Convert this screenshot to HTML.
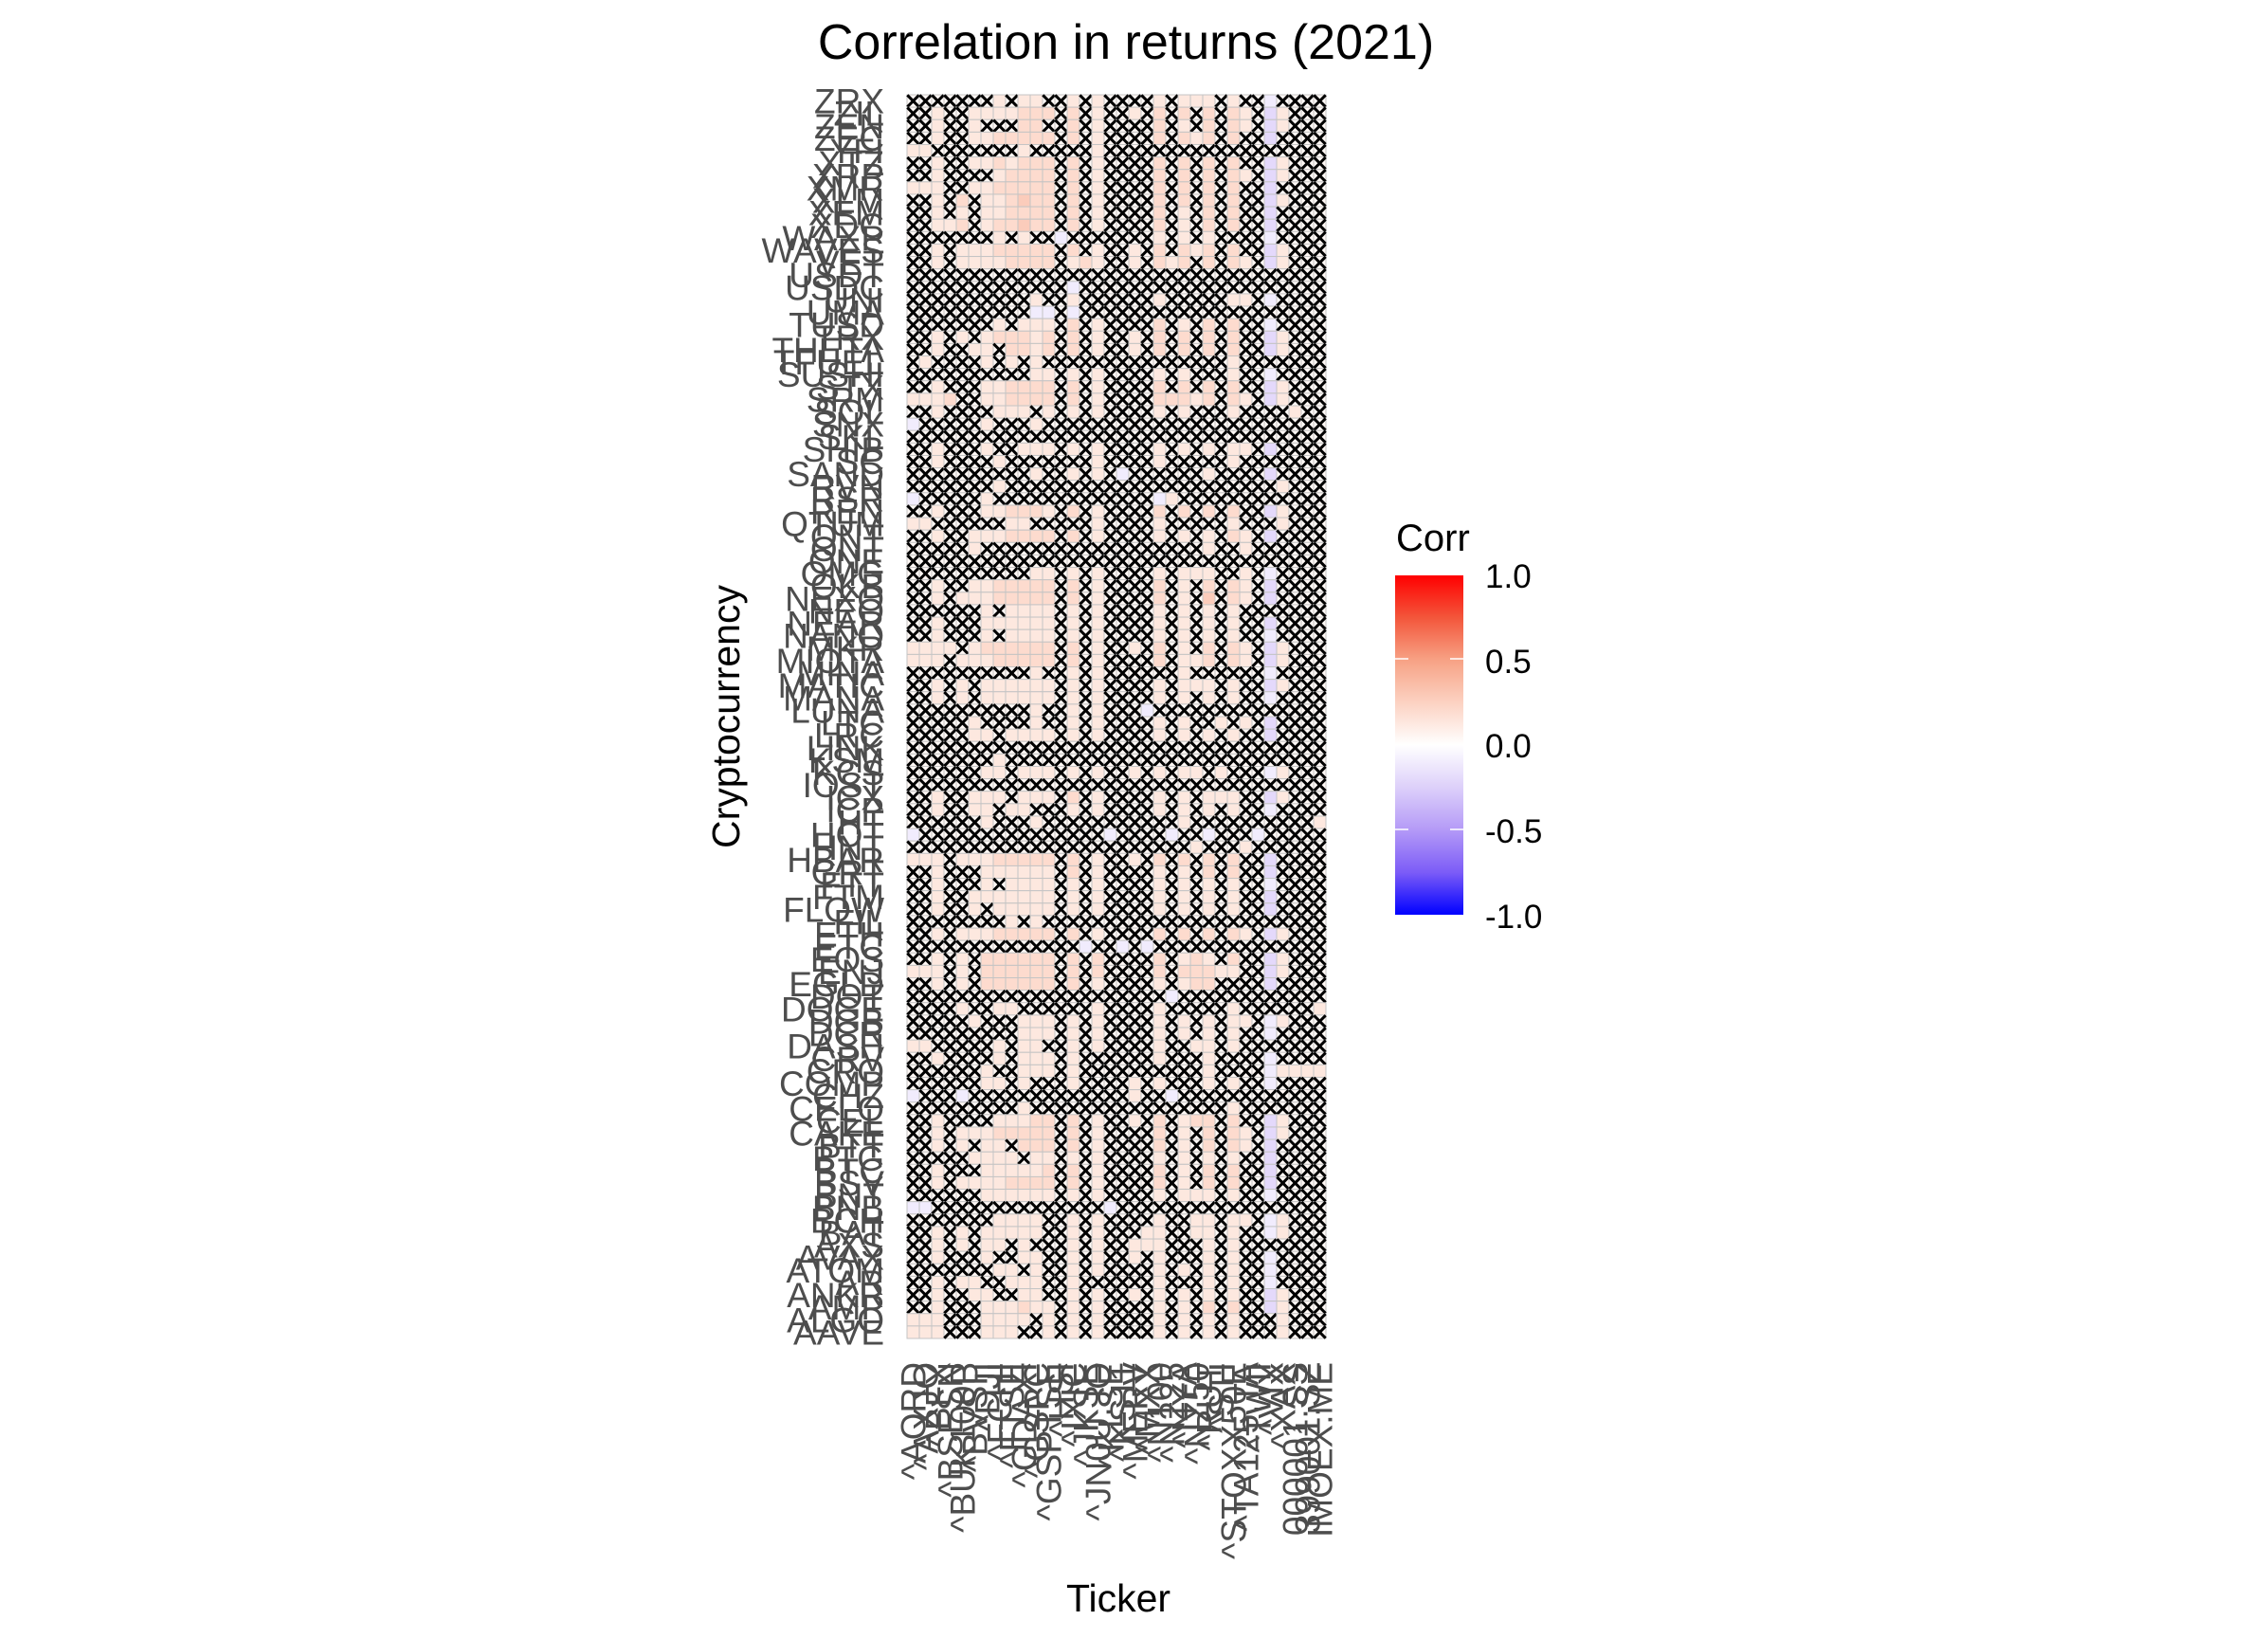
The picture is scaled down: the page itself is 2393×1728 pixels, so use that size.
<!DOCTYPE html>
<html><head><meta charset="utf-8"><title>Correlation in returns (2021)</title>
<style>html,body{margin:0;padding:0;background:#fff;}svg{display:block;}</style></head>
<body>
<svg id="chart" xmlns="http://www.w3.org/2000/svg" width="2393" height="1728" viewBox="0 0 2393 1728" font-family="Liberation Sans, Arial, sans-serif">
  <rect x="0" y="0" width="2393" height="1728" fill="#ffffff"/>
  <text x="1188" y="62" text-anchor="middle" font-size="52" fill="#000">Correlation in returns (2021)</text>
  <g id="cells"></g>
  <g id="ylabels"></g>
  <g id="xlabels"></g>
  <text transform="translate(780,756) rotate(-90)" text-anchor="middle" font-size="41" fill="#000">Cryptocurrency</text>
  <text x="1180" y="1700" text-anchor="middle" font-size="41" fill="#000">Ticker</text>
  <g>
    <defs>
      <linearGradient id="cbar" x1="0" y1="0" x2="0" y2="1">
        <stop offset="0" stop-color="#ff0000"/>
        <stop offset="0.125" stop-color="#f3563b"/>
        <stop offset="0.25" stop-color="#f7a285"/>
        <stop offset="0.375" stop-color="#fcd2c2"/>
        <stop offset="0.5" stop-color="#ffffff"/>
        <stop offset="0.625" stop-color="#ddd0fa"/>
        <stop offset="0.75" stop-color="#b49af7"/>
        <stop offset="0.875" stop-color="#7c5cf7"/>
        <stop offset="1" stop-color="#0000ff"/>
      </linearGradient>
    </defs>
    <text x="1473" y="581" font-size="40" fill="#000">Corr</text>
    <rect x="1472" y="607" width="72" height="358" fill="url(#cbar)"/>
    <g stroke="#fff" stroke-width="1.5">
      <line x1="1472" y1="695" x2="1486" y2="695"/><line x1="1530" y1="695" x2="1544" y2="695"/>
      <line x1="1472" y1="786" x2="1486" y2="786"/><line x1="1530" y1="786" x2="1544" y2="786"/>
      <line x1="1472" y1="875" x2="1486" y2="875"/><line x1="1530" y1="875" x2="1544" y2="875"/>
    </g>
    <g font-size="35" fill="#000">
      <text x="1567" y="620">1.0</text>
      <text x="1567" y="710">0.5</text>
      <text x="1567" y="799">0.0</text>
      <text x="1567" y="889">-0.5</text>
      <text x="1567" y="979">-1.0</text>
    </g>
  </g>
</svg>
<script>
// Data: tickers (x categories), cryptos (y categories, bottom to top), matrix rows top to bottom.
const tickers = ["^AORD","^AXJO","^BFX","^BSESN","^BUK100P","^BVSP","^DJI","^FCHI","^FTSE","^GDAXI","^GSPC","^GSPTSE","^HSI","^IXIC","^JKSE","^JN0U.JO","^KLSE","^KS11","^MERV","^MXX","^N100","^N225","^NYA","^NZ50","^RUT","^STI","^STOXX50E","^TA125.TA","^TWII","^VIX","^XAX","000001.SS","399001.SZ","IMOEX.ME"];
const cryptos = ["AAVE","ALGO","AMP","ANKR","AR","ATOM","AVAX","AXS","BAT","BCH","BNB","BNT","BSV","BTC","BTG","BTT","CAKE","CEL","CELO","CHZ","COMP","CRO","CRV","DASH","DCR","DGB","DOGE","DOT","EGLD","ENJ","EOS","ETC","ETH","FIL","FLOW","FTM","FTT","GRT","HBAR","HNT","HOT","HT","ICP","ICX","IOST","KCS","KSM","LINK","LRC","LTC","LUNA","MANA","MATIC","MINA","MIOTA","MKR","NANO","NEAR","NEO","NEXO","OKB","OMG","ONE","ONT","QNT","QTUM","REN","RSR","RVN","SAND","SC","SHIB","SKL","SNX","SOL","SRM","STX","SUSHI","TFUEL","THETA","TRX","TUSD","UMA","UNI","USDC","USDT","VET","WAVES","WAXP","XDC","XEM","XLM","XMR","XRP","XTZ","YFI","ZEC","ZEN","ZIL","ZRX"];
// correlation level codes per cell; x = not significant
const levelValues = {"x":0.04,"1":0.13,"2":0.2,"3":0.28,"n":-0.1,"m":-0.2};
const matrixRows = [
"xxxxxxx1x11xx1x1xxxx1x111x1xxnxxxx","xx1xx1111222x2x1xx1x2x2x2x21xm1xxx","xx1xx1xxx22xx2x1xxxx2x1x2x21xm1xxx","xx1xx1122222x2x1xxxx2x212x2xxmxxxx",
"11xxxxxxx1xxxxx1xxxxxxxxxxxxxxxxxx","xx1xx1121222x2x1xxxx2x2x2x2xxm1xxx","xx1xxxx12222x2x1xxxx2x2x2x21xm1xxx","111xx1122222x2x1xxxx2x2x2x2xxmxxxx",
"xx1x2x112322x2x1xxxx2x2x2x2xxm1xxx","xx1x1x112222x2x1xxxx2x1x2x2xxmxxxx","xx112x122322x2x1xxxx2x1x2x2xxmxxxx","xxxxxxx1x1xxnxxxxxxx1x1x1xxxxnxxxx",
"xx1x11122222x2x1xx1x2x212x2xxm1xxx","xx1x11112222x121xx1x212x2x21xm1xxx","xxxxxxxxxxxxxxxxxxxxxxxxxxxxxxxxxx","xxxxxxxxxxxxxnxxxxxxxxxxxxxxxxxxxx",
"xxxxxxxxxx1xx1xxxxxx1xxxxx11xnxxxx","xxxxxxxxxxnnxnxxxxxxxxxxxxxxxxxxxx","xxxxxxx1x111x2x1xxxx2x1x2x2xxnxxxx","xx1x1x122212x2x1xx1x2x2x2x2xxm1xxx",
"xx1xx11x2212x2x1xx1x2x2x2x2xxm1xxx","x1xxxx1x1x1xxxxxxxxxxxxxxx1xxxxxxx","xxxxxxxxxx11x1x1xxxx1x1xxx1xxnxxxx","xx1xxx112222x2x1xxxx2x2x2x2xxm1xxx",
"1112xx112222x2x1xxxx22212x21xm1xxx","xx1xxxx111x1x1x1xxxx1x1xxx1xxxx1xx","nxxxxx1xxx1xxxxxxxxxxxxxxxxxxxxxxx","xxxxxxxxxxxxxxxxxxxxxxxxxxxxxxxxxx",
"xx1xxx1xx111x1x1xxxx1x1x1x11xmxxxx","xx1xxxx1xxxxxxx1xxxx1xxxxx1xxxxxxx","xxxxxxxxxx1xx1x1xnxxxxxx1xxxxmxxxx","xxxxxxx1xxxxxxxxxxxxxxxxxxxxxx1xxx",
"nxxxxx1xxxxxxxxxxxxxn1xxxxxxxxxxxx","xx1xxx112221x2x1xxxx2x2x2x2xxm1xxx","11xxxxxx11xxxxx1xxxx1xxxxx1xxx1xxx","xx1xx1112222x2x1xxxx1x1x1x21xmxxxx",
"xxxxx1xxxxxxxxxxxxxxxxxx1xx1xxxxxx","xxxxxxxxxxxxxxxxxxxxxxxxxxxxxxxxxx","xxxxxxxxxx11x1x1xxxx1x111xx1xnxxxx","xx1xx1122222x2x1xxxx2x1x2x21xmxxxx",
"xx1x11122222x2x1xxxx2x1x3x21xmxxxx","xxxxxx1x1111x1x1xxxx1x1x1x1xxxxxxx","xx1xxx111111x1x1xxxx1x1x1x1xxmxxxx","xx1xxx1x1111x1x1xxxx1x1x1x1xxnxxxx",
"1111x1222222x2x1xx1x2x1x2x21xm1xxx","111x11122222x2x1xxxx2x112x21xm1xxx","xxxxxxxxxx1xx1x1xxxxxx1xxxxxxnxxxx","xx1x1x111111x1x1xxxx1x111x1xxm1xxx",
"xx1x1x111111x1x1xxxx1x1x1x1xxnxxxx","xxxxxxxxxx1xx1x1xxxnxxxxxxxxxxxxxx","xxxxx1xxxx1xx1x1xxxx1x1xx1x1xmxxxx","xxxxx11x1111x1x1xxxx1x1x1x1xxmxxxx",
"xxxxxxxxxxxxxxxxxxxxxxxxxxxxxxxxxx","xxxxxxx1xxxxxxxxxxxxxxxxxxxxxxxxxx","xxxxxx11x111x1x1xx1x1x11x1xxxn1xxx","xxxxxxxxxxxxxxxxxxxxxxxxxxxxxxxxxx",
"xx1xx111x111x2x1xxxx1x1x111xxm1xxx","xx1xx11x11xxx1x1xxxx1x1x1x1xxnxxxx","xxxxxx1xxx1xxxxxxxxxxx1xxxxxxxxxx1","nxxxxxxxxxxxxxxxnxxxxnxxnxxxnxxxxx",
"xxxxxxxxxxxxxxxxxxxxxxx1xxx1xxxxxx","111x11122222x2x1xx1x2x2x2x2xxmxxxx","xx1xxx111111x2x1xxxx1x1x2x2xxmxxxx","xx1xxx1x1111x1x1xxxx1x1x1x1xxnxxxx",
"xx1xx1111111x1x1xxxx1x1x1x1xxmxxxx","xx1xx1x11111x1x1xxxx1x1x1x1xxmxxxx","xxxxxxxx1x1xxxxxxxxxxxxxxxxxxxxxxx","xx1x11122222x2x1xxxx2x2x2x21xm1xxx",
"xxxxxxxxxxxxxxnxxnxnxxxxxxxxxxxxxx","xx1x1x222222x2x2xxxx2x121x2xxm1xxx","111x1x222222x2x2xxxx2x22211xxm1xxx","xx1x1x222222x2x1xxxx1x122xxxxmxxxx",
"xxxxxxxxxxxxxxxxxxxxxnxxxxxxxxxxxx","xxxx1xx11xxxxxx1xxxx1xxxxx1xxxxxx1","xxxxx1xxx111x1x1xxxx1x1x1x11xn1xxx","xxxxxxxxx111x1x1xxxx1x1x1x1xxnxxxx",
"11xxxxx1x11xx1x1xxxx1xx11x1xxxxxxx","xx1xxxx1x111x1xxxxxx1xxx1xxxxnxxxx","xxxxxx1xx111x1xxxxxxxxxx1xxxxn1111","xxxxxx11x1xxx1xxxx1x1xxx1x1xxnxxxx",
"nxxxnxxxxxxxxxxxxx1xxnxxxxxxxxxxxx","xxxxxxxxx1xxxxxxxxxxxxxxxx1xxxxxxx","xx1xxxx11122x2x1xx1x2x122x2xxm1xxx","xx1x11122222x2x1xxxx2x1x2x21xm1xxx",
"xx1x1x11x222x2x1xxxx2x1x2x21xmxxxx","xxxxx1111x11x1x1xxxx1x1x1x1xxmxxxx","xx1xxx111112x2x1xxxx2x1x2x2xxmxxxx","xx1x11112222x2x1xxxx2x1x2x2xxmxxxx",
"xxxxxx111111x1x1xxxx1x111x1xxnxxxx","nnxxxxxxxxxxxxxxnxxxxxxxxxxxxxxxxx","xxxxxxx1111xx1x1xxxx1xx11x11xn1xxx","xx1x1x11111xx1x1xxx11xx11x1xxn1xxx",
"xx1x1x11x1xxx1x1xx111xxx1x1xxxxxxx","xx1xxx1xx11xx1x1xx1x1xxx1x1xxnxxxx","xxxxxxx11x1xx1x1xxxx1x1x1x1xxnxxxx","xx1x11xx111xx1xxxxxx1xxx1x1xxnxxxx",
"xx1xx11xx11xx1x1xx1x1x1x1x1xxm1xxx","xx1xxx111211x1x1xxxx1x1x2x2xxm1xxx","111xxx1111x1x1x1xxxx1x1x1x1xxx1xxx","111xxx111xx1x1x1xxxx1x1x1x1xxx1xxx"
];
const NS = "http://www.w3.org/2000/svg";
const plotLeft = 957, plotRight = 1399, plotTop = 100, plotBottom = 1412;
const cw = (plotRight - plotLeft) / tickers.length;
const ch = (plotBottom - plotTop) / matrixRows.length;
function xPos(i){ return plotLeft + i * cw; }
function yPos(r){ return plotTop + r * ch; }
function mix(a,b,t){ return a.map((v,i)=>Math.round(v+(b[i]-v)*t)); }
const posStops = [[255,255,255],[252,210,194],[247,162,133],[243,86,59],[255,0,0]];
const negStops = [[255,255,255],[221,208,250],[180,154,247],[124,92,247],[0,0,255]];
function colorFor(v){
  const stops = v >= 0 ? posStops : negStops;
  const a = Math.min(1, Math.abs(v)) * 4;
  const i = Math.min(3, Math.floor(a));
  const c = mix(stops[i], stops[i+1], a - i);
  return "rgb(" + c.join(",") + ")";
}
const cells = document.getElementById("cells");
matrixRows.forEach((row, r) => {
  for (let c = 0; c < tickers.length; c++) {
    const code = row[c] || "x";
    const v = levelValues[code];
    const rect = document.createElementNS(NS, "rect");
    rect.setAttribute("x", xPos(c)); rect.setAttribute("y", yPos(r));
    rect.setAttribute("width", cw); rect.setAttribute("height", ch);
    rect.setAttribute("fill", colorFor(v));
    rect.setAttribute("stroke", "#c4c4c4"); rect.setAttribute("stroke-width", "1");
    
    
    cells.appendChild(rect);
    if (code === "x") {
      const p = document.createElementNS(NS, "path");
      const x0 = xPos(c) + 0.3, y0 = yPos(r) + 0.3, x1 = xPos(c) + cw - 0.3, y1 = yPos(r) + ch - 0.3;
      p.setAttribute("d", "M" + x0 + " " + y0 + "L" + x1 + " " + y1 + "M" + x1 + " " + y0 + "L" + x0 + " " + y1);
      p.setAttribute("stroke", "#000"); p.setAttribute("stroke-width", "3"); p.setAttribute("fill", "none");
      
      
      cells.appendChild(p);
    }
  }
});
const yl = document.getElementById("ylabels");
cryptos.forEach((name, i) => {
  const r = matrixRows.length - 1 - i;
  const t = document.createElementNS(NS, "text");
  t.setAttribute("x", 933); t.setAttribute("y", yPos(r) + ch / 2 + 13);
  t.setAttribute("text-anchor", "end"); t.setAttribute("font-size", "37"); t.setAttribute("fill", "#4d4d4d");
  t.textContent = name;
  
  
  yl.appendChild(t);
});
const xl = document.getElementById("xlabels");
tickers.forEach((name, i) => {
  const cx = xPos(i) + cw / 2 + 13;
  const t = document.createElementNS(NS, "text");
  t.setAttribute("transform", "translate(" + cx + ",1437) rotate(-90)");
  t.setAttribute("text-anchor", "end"); t.setAttribute("font-size", "37"); t.setAttribute("fill", "#4d4d4d");
  t.textContent = name;
  
  
  xl.appendChild(t);
});
</script>
</body></html>
